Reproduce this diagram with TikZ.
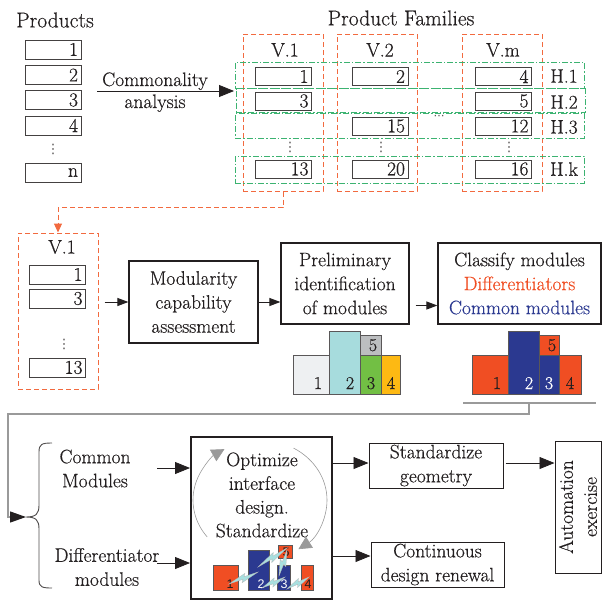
\documentclass[tikz,border=0pt]{standalone}
\usepackage{fontspec}
\setmainfont{Latin Modern Roman}[FakeBold=0.45]
\newfontfamily\labelsans{Liberation Sans}
\newfontfamily\dotfont{DejaVu Sans}
\usetikzlibrary{arrows.meta,calc}
\definecolor{ink}{HTML}{231F20}
\definecolor{famred}{HTML}{F26A3F}
\definecolor{famgreen}{HTML}{3CB371}
\definecolor{diffred}{HTML}{F04E23}
\definecolor{comblue}{HTML}{2B3990}
\definecolor{barlight}{HTML}{EEF0F2}
\definecolor{barcyan}{HTML}{A7DCDD}
\definecolor{bargray}{HTML}{BCBEC0}
\definecolor{bargreen}{HTML}{72BF44}
\definecolor{baryellow}{HTML}{FDB913}
\definecolor{zapcyan}{HTML}{A8E0E0}
\definecolor{loopgray}{HTML}{9A9A9A}
\newcommand\normfont{\fontsize{19.5}{24}\selectfont}
\newcommand\headfont{\fontsize{21.5}{26}\selectfont}
\newcommand\tinysans{\labelsans\fontsize{12.5}{14}\selectfont}
% lightning-shaped link between two points
\newcommand\zap[2]{\filldraw[fill=zapcyan,draw=loopgray!70,line width=0.3pt]
  (#1) -- ($(#1)!0.60!(#2)!3.8pt!90:(#2)$) -- ($(#1)!0.53!(#2)!1pt!90:(#2)$)
  -- (#2) -- ($(#1)!0.40!(#2)!-3.8pt!90:(#2)$) -- ($(#1)!0.47!(#2)!-1pt!90:(#2)$) -- cycle;}
\begin{document}
\begin{tikzpicture}[x=1pt,y=-1pt,
  every node/.style={text=ink,font=\normfont},
  pbox/.style={draw=ink!85,fill=white,line width=0.9pt,minimum height=19pt,text width=50pt,
    align=right,inner xsep=3pt,inner ysep=0pt},
  famcol/.style={draw=famred,dash pattern=on 5pt off 3pt,line width=1pt,minimum width=80pt,
    minimum height=157pt,inner sep=0pt},
  famrow/.style={draw=famgreen,dash pattern=on 6pt off 2pt on 1.5pt off 2pt,line width=1pt,
    minimum width=349pt,inner sep=0pt},
  stepbox/.style={draw=ink,line width=1.2pt,align=center,inner sep=0pt},
  arr/.style={draw=ink,line width=1pt,-{Triangle[length=11pt,width=8pt]}},
  bigarr/.style={draw=ink,line width=0.8pt,-{Triangle[length=15pt,width=12pt]}},
  bar/.style={draw=ink!75,line width=0.8pt},
  barnum/.style={font=\fontsize{18}{18}\selectfont,anchor=base},
  sbarnum/.style={font=\tinysans,anchor=base},
  dotsv/.style={font=\dotfont\fontsize{13}{13}\selectfont,inner sep=0pt,text=ink!80},
  loop/.style={draw=loopgray,line width=0.6pt,-{Triangle[length=13pt,width=13pt,color=loopgray]}}]
\useasboundingbox (0,0) rectangle (602,600);

% ---------- products ----------
\node[font=\headfont] (prodhead) at (55,20) {Products};
\node[pbox] (p1) at (53,49.5) {1};
\node[pbox] (p2) at (53,75) {2};
\node[pbox] (p3) at (53,100) {3};
\node[pbox] (p4) at (53,125.5) {4};
\node[dotsv] (pdots) at (53,149) {⋮};
\node[pbox] (pn) at (53,172.5) {n};

% ---------- commonality analysis ----------
\coordinate (ca-from) at (97,91);
\coordinate (ca-to) at (234,91);
\draw[bigarr] (ca-from) -- (ca-to);
\node[anchor=base] (ca-top) at (155,86) {Commonality};
\node[anchor=base] (ca-bot) at (155,108) {analysis};

% ---------- product families ----------
\node[font=\headfont] (famhead) at (401,18) {Product Families};
\node[famcol] (vcol1) at (283,112.5) {};
\node[famcol] (vcol2) at (377,112.5) {};
\node[famcol] (vcolm) at (502,112.5) {};
\node (v1lab) at (285,50) {V.1};
\node (v2lab) at (380,50) {V.2};
\node (vmlab) at (503,50) {V.m};

\node[famrow,minimum height=26pt] (hrow1) at (409.5,75) {};
\node[famrow,minimum height=24pt] (hrow2) at (410.5,100.5) {};
\node[famrow,minimum height=25pt] (hrow3) at (409.5,125.5) {};
\node[famrow,minimum height=27pt] (hrowk) at (409.5,169.5) {};
\node (h1lab) at (564,76) {H.1};
\node (h2lab) at (564,102) {H.2};
\node (h3lab) at (564,127) {H.3};
\node (hklab) at (564,169) {H.k};

\node[pbox,minimum height=18pt] (f11) at (283.5,76.5) {1};
\node[pbox,minimum height=18pt] (f12) at (380,76.5) {2};
\node[pbox,minimum height=18pt] (f1m) at (503.5,76.5) {4};
\node[pbox,minimum height=18pt] (f21) at (283.5,101) {3};
\node[pbox,minimum height=18pt] (f2m) at (503.5,101) {5};
\node[pbox,minimum height=18pt] (f32) at (380,126) {15};
\node[pbox,minimum height=18pt] (f3m) at (503.5,126) {12};
\node[pbox,minimum height=18pt] (fk1) at (283.5,169) {13};
\node[pbox,minimum height=18pt] (fk2) at (380,169) {20};
\node[pbox,minimum height=18pt] (fkm) at (503.5,169) {16};
\node[dotsv] (fd1) at (290,147) {⋮};
\node[dotsv] (fd2) at (381,147) {⋮};
\node[dotsv] (fdm) at (509,147) {⋮};
\node[dotsv,font=\dotfont\fontsize{11}{11}\selectfont] (fdh) at (439,117) {⋯};

% ---------- selected family ----------
\node[famcol,minimum height=156pt] (vsel) at (58,311) {};
\draw[draw=famred,dash pattern=on 5pt off 3pt,line width=1pt,
  -{Triangle[length=9pt,width=8pt,color=famred]}]
  (vcol1.south) -- ++(0,16) -| (vsel.north);
\node (vsellab) at (62,247) {V.1};
\node[pbox] (s1) at (57.5,274.5) {1};
\node[pbox] (s3) at (57.5,298.5) {3};
\node[dotsv] (sdots) at (64,344) {⋮};
\node[pbox] (s13) at (57.5,367.5) {13};

% ---------- process steps ----------
\node[stepbox,minimum width=129pt,minimum height=82pt] (modcap) at (193.5,302)
  {Modularity\\capability\\assessment};
\node[stepbox,minimum width=128pt,minimum height=81pt] (prelim) at (345,283.5)
  {Preliminary\\identification\\of modules};
\node[stepbox,minimum width=163pt,minimum height=81pt] (classify) at (519.5,283.5)
  {Classify modules\\\textcolor{diffred}{Differentiators}\\\textcolor{comblue}{Common modules}};
\draw[arr] ([xshift=6pt]vsel.east |- modcap.west) -- (modcap.west);
\draw[arr] (modcap.east) -- (modcap.east -| prelim.west);
\draw[arr] ($(prelim.east)+(6,22)$) -- ($(classify.west)+(0,22)$);

% ---------- module charts ----------
\filldraw[bar,fill=barlight] (293,355) rectangle (329,394);
\filldraw[bar,fill=barcyan] (329,331) rectangle (360,394);
\filldraw[bar,fill=bargray] (360,335) rectangle (381,355);
\filldraw[bar,fill=bargreen] (360,355) rectangle (381,394);
\filldraw[bar,fill=baryellow] (381,355) rectangle (400,394);
\node[barnum] (pa1) at (318,389) {1};
\node[barnum] (pa2) at (350,389) {2};
\node[barnum] (pa3) at (371,389) {3};
\node[barnum] (pa4) at (391,389) {4};
\node[barnum] (pa5) at (373,351) {5};

\filldraw[bar,fill=diffred] (472,355) rectangle (508,394);
\filldraw[bar,fill=comblue] (508,331) rectangle (539,394);
\filldraw[bar,fill=diffred] (539,335) rectangle (559,355);
\filldraw[bar,fill=comblue] (539,355) rectangle (559,394);
\filldraw[bar,fill=diffred] (559,355) rectangle (581,394);
\node[barnum] (cb1) at (497,389) {1};
\node[barnum,text=white] (cb2) at (529,389) {2};
\node[barnum,text=white] (cb3) at (549,389) {3};
\node[barnum] (cb4) at (570,389) {4};
\node[barnum] (cb5) at (552,351) {5};

% ---------- feedback into the split ----------
\draw[loopgray,line width=1.2pt] (463,403) -- (596,403);
\coordinate (chartbase) at (529,403);
\coordinate (bracetip) at (26,517);
\draw[draw=loopgray,line width=1.2pt,-{Triangle[length=16pt,width=11pt,color=ink]}]
  (chartbase) |- (8,414) -- (8,517) -- (bracetip);
\draw[ink!80,line width=0.9pt]
  (52,443) .. controls (42,443) and (39,444) .. (39,452) -- (39,505)
  .. controls (39,514) and (36,517) .. (26,517)
  .. controls (36,517) and (39,520) .. (39,529) -- (39,580)
  .. controls (39,587) and (42,588) .. (52,588);
\node[align=center] (commod) at (95,468.5) {Common\\Modules};
\node[align=center] (difmod) at (107,567) {Differentiator\\modules};

% ---------- optimisation step ----------
\node[draw=ink,line width=2pt,minimum width=141pt,minimum height=162pt,inner sep=0pt]
  (optbox) at (261.5,518) {};
\coordinate (cm-out) at (157,468);
\coordinate (dm-out) at (157,563);
\draw[bigarr] (cm-out) -- (cm-out -| optbox.west);
\draw[bigarr] (dm-out) -- (dm-out -| optbox.west);

\draw[loop] (260,500) ++(142:67 and 60) arc[start angle=142,end angle=238,x radius=67,y radius=60];
\draw[loop] (260,500) ++(-60:67 and 60) arc[start angle=-60,end angle=55,x radius=67,y radius=60];
\node[align=center,font=\fontsize{19.5}{23.7}\selectfont] (opttext) at (262,495)
  {Optimize\\interface\\design.\\Standardize};

\filldraw[bar,fill=diffred] (213,565) rectangle (238,590);
\filldraw[bar,fill=comblue] (248,550) rectangle (269,590);
\filldraw[bar,fill=diffred] (278,545) rectangle (292,558);
\filldraw[bar,fill=comblue] (277,565) rectangle (290,590);
\filldraw[bar,fill=diffred] (301,565) rectangle (313,590);
\node[sbarnum] (ob1) at (230,588) {1};
\node[sbarnum,text=white] (ob2) at (261,588) {2};
\node[sbarnum,text=white] (ob3) at (284,588) {3};
\node[sbarnum] (ob4) at (308,588) {4};
\node[sbarnum] (ob5) at (286,556) {5};
\zap{229,584}{258,572}
\zap{258,567}{287,548}
\zap{287,550}{279,576}
\zap{262,588}{285,577}
\zap{287,589}{309,577}

% ---------- outputs ----------
\node[stepbox,line width=1pt,minimum width=134pt,minimum height=45pt] (stdgeo) at (436,465.5)
  {Standardize\\geometry};
\node[stepbox,line width=1pt,minimum width=133pt,minimum height=45pt] (contren) at (437.5,564.5)
  {Continuous\\design renewal};
\node[stepbox,line width=1pt,minimum width=46pt,minimum height=132pt] (auto) at (578,507) {};
\node[rotate=90,align=center] (autotext) at (auto.center) {Automation\\exercise};
\coordinate (sg-in) at ($(stdgeo.west)+(0,-2.5)$);
\coordinate (cr-in) at ($(contren.west)+(0,-8.5)$);
\draw[bigarr] (optbox.east |- sg-in) -- (sg-in);
\draw[bigarr] (optbox.east |- cr-in) -- (cr-in);
\draw[bigarr] ($(stdgeo.east)+(2,-2.5)$) -- ($(stdgeo.east -| auto.west)+(0,-2.5)$);
\end{tikzpicture}
\end{document}
